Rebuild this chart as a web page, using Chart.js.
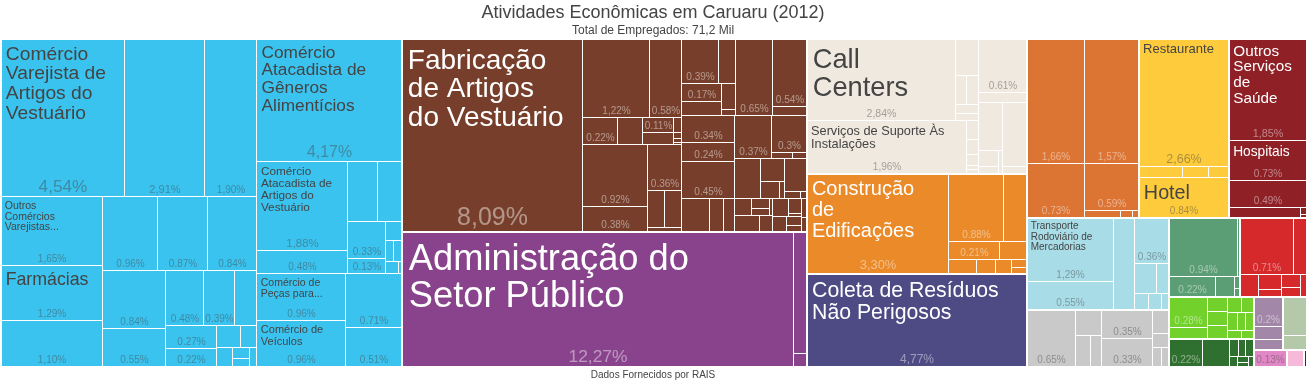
<!DOCTYPE html>
<html>
<head>
<meta charset="utf-8">
<script src="https://cdn.jsdelivr.net/npm/chart.js@4.4.1/dist/chart.umd.min.js"></script>
<style>
  html, body { margin: 0; padding: 0; background: #fff; }
  canvas { display: block; }
</style>
</head>
<body>
<canvas id="chart" width="1306" height="385"></canvas>
<script>
// share of employment (%) per class, grouped by division, one array per sector
const comercio = [
  [4.54, 2.91, 1.90, 1.65, 1.29, 1.10, 0.96, 0.87, 0.84, 0.84, 0.55, 0.48, 0.39, 0.27, 0.28, 0.22, 0.12, 0.08, 0.07, 0.044, 0.03, 0.03],
  [4.17, 1.88, 0.48, 0.42, 0.34, 0.33, 0.13, 0.07, 0.04, 0.04, 0.037, 0.008],
  [0.96, 0.96, 0.71, 0.51]
];
const industria = [
  [8.09],
  [1.22, 0.58, 0.22, 0.16, 0.11, 0.087, 0.025, 0.01, 0.006, 0.004],
  [0.92, 0.38, 0.36, 0.155, 0.14, 0.03],
  [0.39, 0.18, 0.17, 0.13, 0.09, 0.02],
  [0.65],
  [0.54, 0.07],
  [0.34, 0.24],
  [0.45],
  [0.22, 0.11, 0.087],
  [0.37],
  [0.30, 0.03, 0.02],
  [0.237],
  [0.128, 0.08, 0.02],
  [0.164, 0.026, 0.01],
  [0.065, 0.04, 0.033, 0.01],
  [0.088, 0.046],
  [0.067, 0.046, 0.01],
  [0.05, 0.03, 0.02],
  [0.02, 0.015]
];
const adminPublica = [[12.27, 0.37, 0.04]];
const servicosAdm = [
  [2.84, 0.19, 0.077, 0.077, 0.046, 0.036],
  [1.96, 0.05, 0.04, 0.03, 0.01, 0.01],
  [0.61, 0.107],
  [0.27, 0.08, 0.03, 0.02],
  [0.36, 0.04]
];
const construcao = [[3.30], [0.88, 0.37, 0.21, 0.11], [0.09, 0.06, 0.05, 0.03, 0.02]];
const residuos = [[4.77]];
const educacao = [[1.66, 1.57, 0.73, 0.59, 0.06, 0.02, 0.01]];
const alojamento = [[2.66, 0.11, 0.065, 0.05], [0.84]];
const saude = [[1.85, 0.73, 0.49], [0.17, 0.01, 0.005]];
const transporte = [[1.29, 0.55, 0.46], [0.36, 0.15, 0.087, 0.048, 0.046, 0.026]];
const informacao = [[0.65, 0.16, 0.11, 0.08], [0.35, 0.33, 0.09, 0.05, 0.04, 0.03]];
const financeiro = [[0.94, 0.03], [0.22, 0.09, 0.014, 0.01]];
const outrosServicos = [[0.71, 0.17], [0.10, 0.08, 0.04], [0.06, 0.04, 0.03]];
const agropecuaria = [[0.28, 0.10, 0.07, 0.065, 0.06, 0.05, 0.045, 0.04, 0.035, 0.03, 0.025, 0.02]];
const profissionais = [[0.22, 0.17, 0.04, 0.03, 0.03, 0.02, 0.015, 0.01, 0.01]];
const artes = [[0.20, 0.09, 0.07]];
const imobiliarias = [[0.22, 0.08]];
const domesticos = [[0.13]];
const eletricidade = [[0.064]];
const extrativas = [[0.012]];

const sectors = [comercio, industria, adminPublica, servicosAdm, construcao, residuos, educacao,
  alojamento, saude, transporte, informacao, financeiro, outrosServicos, agropecuaria,
  profissionais, artes, imobiliarias, domesticos, eletricidade, extrativas];

// names shown on the cells: sector, division index, value, name
const cellNames = [
  [comercio, 0, 4.54, "Comércio Varejista de Artigos do Vestuário"],
  [comercio, 0, 1.65, "Outros Comércios Varejistas..."],
  [comercio, 0, 1.29, "Farmácias"],
  [comercio, 1, 4.17, "Comércio Atacadista de Gêneros Alimentícios"],
  [comercio, 1, 1.88, "Comércio Atacadista de Artigos do Vestuário"],
  [comercio, 2, 0.96, "Comércio de Peças para..."],
  [comercio, 2, 0.96, "Comércio de Veículos"],
  [industria, 0, 8.09, "Fabricação de Artigos do Vestuário"],
  [adminPublica, 0, 12.27, "Administração do Setor Público"],
  [servicosAdm, 0, 2.84, "Call Centers"],
  [servicosAdm, 1, 1.96, "Serviços de Suporte Às Instalações"],
  [construcao, 0, 3.30, "Construção de Edificações"],
  [residuos, 0, 4.77, "Coleta de Resíduos Não Perigosos"],
  [alojamento, 0, 2.66, "Restaurante"],
  [alojamento, 1, 0.84, "Hotel"],
  [saude, 0, 1.85, "Outros Serviços de Saúde"],
  [saude, 0, 0.73, "Hospitais"],
  [transporte, 0, 1.29, "Transporte Rodoviário de Mercadorias"]
];

const sectorColors = ["#3bc3ef", "#773f2b", "#89438c", "#efe9df", "#ea8a29", "#4e4a84", "#dc7433",
  "#fdcb3b", "#8e2026", "#a8dde8", "#c9c9c9", "#5b9d74", "#d6292c", "#72d12a",
  "#2f6f2f", "#a287a9", "#b4c8aa", "#e187c6", "#f6b9d9", "#5a1a2a"];
const darkText = [true, false, false, true, false, false, false, true, false, true, true, false, false, false,
  false, false, true, true, true, false];

const W = 1306, H = 328;
const FONT = '"Liberation Sans", Arial, Helvetica, sans-serif';
const RATIO = 0.5 * (1 + Math.sqrt(5));

// squarified treemap (same row logic as d3 v3)
function worst(row, area, u) {
  let rmax = 0, rmin = Infinity;
  row.forEach(o => { if (o.area > rmax) rmax = o.area; if (o.area < rmin) rmin = o.area; });
  const s2 = area * area, u2 = u * u;
  return s2 ? Math.max(u2 * rmax * RATIO / s2, s2 / (u2 * rmin * RATIO)) : Infinity;
}

function place(row, area, u, rect, flush) {
  let v = u ? area / u : 0;
  if (u === rect.w) {
    if (flush || v > rect.h) v = rect.h;
    let x = rect.x;
    row.forEach(o => {
      o.x = x; o.y = rect.y; o.h = v;
      o.w = Math.min(rect.x + rect.w - x, v ? o.area / v : 0);
      x += o.w;
    });
    row[row.length - 1].w += rect.x + rect.w - x;
    rect.y += v; rect.h -= v;
  } else {
    if (flush || v > rect.w) v = rect.w;
    let y = rect.y;
    row.forEach(o => {
      o.x = rect.x; o.y = y; o.w = v;
      o.h = Math.min(rect.y + rect.h - y, v ? o.area / v : 0);
      y += o.h;
    });
    row[row.length - 1].h += rect.y + rect.h - y;
    rect.x += v; rect.w -= v;
  }
}

function squarify(node) {
  if (!node.children) return;
  const kids = node.children.slice().sort((a, b) => b.value - a.value);
  const rect = { x: node.x, y: node.y, w: node.w, h: node.h };
  const k = rect.w * rect.h / node.value;
  kids.forEach(c => { c.area = c.value * k; });
  let row = [], area = 0, best = Infinity, u = Math.min(rect.w, rect.h), i = 0;
  while (i < kids.length) {
    const c = kids[i];
    row.push(c); area += c.area;
    const score = worst(row, area, u);
    if (score <= best) { i++; best = score; }
    else {
      row.pop(); area -= c.area;
      place(row, area, u, rect, false);
      u = Math.min(rect.w, rect.h);
      row = []; area = 0; best = Infinity;
    }
  }
  if (row.length) place(row, area, u, rect, true);
  node.children.forEach(squarify);
}

const leaves = [];
const root = {
  children: sectors.map((divs, si) => ({
    sector: si,
    children: divs.map((vals, di) => ({
      children: vals.map(v => {
        const leaf = { value: v, sector: si, div: di, name: null };
        leaves.push(leaf);
        return leaf;
      })
    }))
  }))
};
(function sumUp(n) {
  if (n.children) n.value = n.children.reduce((s, c) => s + sumUp(c), 0);
  return n.value;
})(root);
Object.assign(root, { x: 0, y: 0, w: W, h: H });
squarify(root);

cellNames.forEach(([arr, di, v, name]) => {
  const si = sectors.indexOf(arr);
  const leaf = leaves.find(l => l.sector === si && l.div === di && l.value === v && !l.name);
  if (leaf) leaf.name = name;
});

function fmtShare(v) {
  return v >= 1 ? v.toFixed(2).replace('.', ',') + '%' : String(parseFloat(v.toFixed(2))) + '%';
}

function wrap(ctx, text, maxW) {
  const words = text.split(' ');
  const lines = [];
  let line = '';
  for (const wd of words) {
    const t = line ? line + ' ' + wd : wd;
    if (ctx.measureText(t).width <= maxW) { line = t; continue; }
    if (!line || ctx.measureText(wd).width > maxW) return null;
    lines.push(line);
    line = wd;
  }
  if (line) lines.push(line);
  return lines;
}

// font size from the free box area against the text area, then shrink until it wraps inside
function fitName(ctx, name, w, availH) {
  ctx.font = '100px ' + FONT;
  const words = name.split(' ');
  const sumEm = words.reduce((s, wd) => s + ctx.measureText(wd).width / 100, 0);
  let s = name.endsWith('...') ? 10.5 : Math.min(46, 0.68 * Math.sqrt(w * availH / (sumEm * 1.2)));
  s = Math.floor(s * 4) / 4;
  for (; s >= 8; s -= 0.25) {
    ctx.font = s + 'px ' + FONT;
    const lines = wrap(ctx, name, w - 18);
    if (!lines) continue;
    if (1 + 1.02 * s + (lines.length - 1) * 1.03 * s + 0.25 * s <= availH) {
      return { s, lines, pad: 2.5 + 0.12 * s };
    }
  }
  return null;
}

function drawCell(ctx, c, x0, y0, x1, y1) {
  const w = x1 - x0, h = y1 - y0;
  const rgb = darkText[c.sector] ? '68,68,68' : '255,255,255';
  const share = fmtShare(c.value);
  const ss = Math.max(10, Math.min(w * 0.14, h * 0.13, 26));
  ctx.font = ss + 'px ' + FONT;
  const showShare = ctx.measureText(share).width <= w - 1 && h >= ss + 4;
  const reserve = showShare ? ss + 2 : 0;
  if (c.name) {
    const fit = fitName(ctx, c.name, w, h - reserve);
    if (fit) {
      ctx.font = fit.s + 'px ' + FONT;
      ctx.fillStyle = 'rgb(' + rgb + ')';
      ctx.textAlign = 'left';
      ctx.textBaseline = 'alphabetic';
      fit.lines.forEach((ln, i) => {
        ctx.fillText(ln, x0 + fit.pad, y0 + 1 + fit.s * 1.02 + i * fit.s * 1.03);
      });
    }
  }
  if (showShare) {
    ctx.font = ss + 'px ' + FONT;
    ctx.fillStyle = 'rgba(' + rgb + ',0.45)';
    ctx.textAlign = 'center';
    ctx.textBaseline = 'alphabetic';
    ctx.fillText(share, x0 + w / 2 + 0.5, y1 - ss * 0.2 - 1);
  }
}

const treemapPlugin = {
  id: 'treemap',
  afterDatasetsDraw(chart) {
    const { ctx, scales: { x, y } } = chart;
    const px = (n) => ({
      x0: Math.round(x.getPixelForValue(n.x)),
      x1: Math.round(x.getPixelForValue(n.x + n.w)),
      y0: Math.round(y.getPixelForValue(n.y)),
      y1: Math.round(y.getPixelForValue(n.y + n.h))
    });
    ctx.save();
    const boxes = leaves.map(c => Object.assign({ c }, px(c)));
    boxes.forEach(b => {
      ctx.fillStyle = sectorColors[b.c.sector];
      ctx.fillRect(b.x0 + 1, b.y0 + 1, b.x1 - b.x0 - 1, b.y1 - b.y0 - 1);
    });
    // slightly wider gaps between sectors
    ctx.fillStyle = '#fff';
    root.children.forEach(sec => {
      const b = px(sec);
      ctx.fillRect(b.x0, b.y0, b.x1 - b.x0, 2);
      ctx.fillRect(b.x0, b.y0, 2, b.y1 - b.y0);
    });
    boxes.forEach(b => drawCell(ctx, b.c, b.x0 + 1, b.y0 + 1, b.x1, b.y1));
    ctx.restore();
  },
  afterDraw(chart) {
    const ctx = chart.ctx;
    ctx.save();
    ctx.font = '10px ' + FONT;
    ctx.fillStyle = '#444';
    ctx.textAlign = 'center';
    ctx.textBaseline = 'middle';
    ctx.fillText('Dados Fornecidos por RAIS', chart.width / 2, 375.5);
    ctx.restore();
  }
};

new Chart(document.getElementById('chart'), {
  type: 'scatter',
  data: { datasets: [{ data: [] }] },
  options: {
    responsive: false,
    animation: false,
    events: [],
    layout: { padding: { top: 0, bottom: 19, left: 0, right: 0 } },
    scales: {
      x: { type: 'linear', min: 0, max: W, display: false },
      y: { type: 'linear', min: 0, max: H, reverse: true, display: false }
    },
    plugins: {
      legend: { display: false },
      tooltip: { enabled: false },
      title: {
        display: true,
        text: 'Atividades Econômicas em Caruaru (2012)',
        color: '#444',
        font: { family: FONT, size: 18, weight: 'normal' },
        padding: { top: 2, bottom: 0 }
      },
      subtitle: {
        display: true,
        text: 'Total de Empregados: 71,2 Mil',
        color: '#444',
        font: { family: FONT, size: 12, weight: 'normal' },
        padding: { top: 0, bottom: 0 }
      }
    }
  },
  plugins: [treemapPlugin]
});
</script>
</body>
</html>
